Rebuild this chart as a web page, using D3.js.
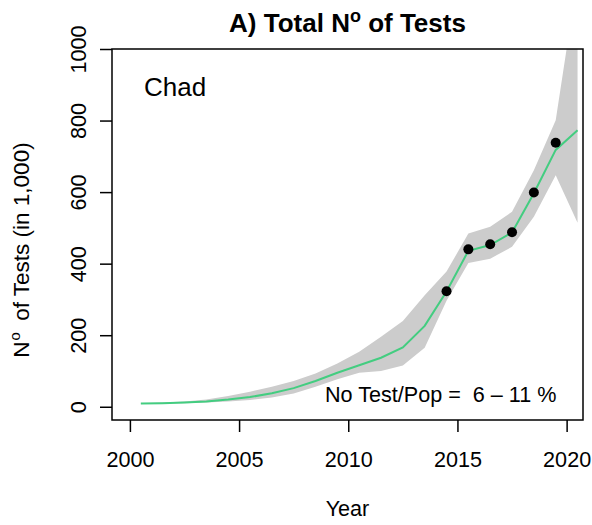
<!DOCTYPE html>
<html>
<head>
<meta charset="utf-8">
<script src="https://cdn.jsdelivr.net/npm/d3@7"></script>
<style>
  html, body { margin: 0; padding: 0; background: #fff; }
  svg { display: block; font-family: "Liberation Sans", Arial, Helvetica, sans-serif; }
</style>
</head>
<body>
<svg id="chart" width="592" height="525"></svg>
<script>
// ---- data ----
const years = [2000.5, 2001.5, 2002.5, 2003.5, 2004.5, 2005.5, 2006.5, 2007.5, 2008.5, 2009.5,
               2010.5, 2011.5, 2012.5, 2013.5, 2014.5, 2015.5, 2016.5, 2017.5, 2018.5, 2019.5, 2020.5];
const fitted = [9, 10, 12, 15, 20, 27, 38, 52, 72, 95, 116, 137, 166, 226, 322, 436, 452, 487, 597, 718, 773];
const upper  = [10, 12, 15, 20, 30, 42, 56, 72, 93, 121, 154, 196, 240, 312, 378, 484, 503, 545, 661, 801, 1200];
const lower  = [9, 9, 10, 12, 15, 19, 26, 37, 56, 77, 95, 100, 115, 165, 296, 402, 414, 447, 531, 647, 514];
const obsYears  = [2014.5, 2015.5, 2016.5, 2017.5, 2018.5, 2019.5];
const obsValues = [323, 440, 454, 488, 599, 738];
const xTicks = [2000, 2005, 2010, 2015, 2020];
const yTicks = [0, 200, 400, 600, 800, 1000];

// ---- layout ----
const svg = d3.select("#chart");
const L = 112, R = 583, T = 49, B = 420;
const x = d3.scaleLinear().domain([1999.18, 2020.75]).range([L, R]);
const y = d3.scaleLinear().domain([-37, 1000]).range([B, T]);

svg.append("defs").append("clipPath").attr("id", "clip")
  .append("rect").attr("x", L).attr("y", T).attr("width", R - L).attr("height", B - T);

const g = svg.append("g").attr("clip-path", "url(#clip)");

const band = years.map((yr, i) => ({ yr, lo: lower[i], hi: upper[i] }));
g.append("path")
  .datum(band)
  .attr("fill", "#cccccc")
  .attr("d", d3.area().x(d => x(d.yr)).y0(d => y(d.lo)).y1(d => y(d.hi)));

g.append("path")
  .datum(years.map((yr, i) => ({ yr, v: fitted[i] })))
  .attr("fill", "none")
  .attr("stroke", "#43CD80")
  .attr("stroke-width", 2)
  .attr("d", d3.line().x(d => x(d.yr)).y(d => y(d.v)));

g.selectAll("circle.obs")
  .data(obsYears.map((yr, i) => ({ yr, v: obsValues[i] })))
  .enter().append("circle")
  .attr("class", "obs")
  .attr("cx", d => x(d.yr)).attr("cy", d => y(d.v)).attr("r", 5)
  .attr("fill", "#000");

// box
svg.append("rect").attr("x", L).attr("y", T).attr("width", R - L).attr("height", B - T)
  .attr("fill", "none").attr("stroke", "#000").attr("stroke-width", 1.5);

// x axis
const xa = svg.append("g").attr("transform", `translate(0,${B})`)
  .call(d3.axisBottom(x).tickValues(xTicks).tickFormat(d3.format("d")).tickSize(12).tickSizeOuter(0));
xa.select(".domain").remove();
xa.selectAll(".tick line").attr("stroke", "#000").attr("stroke-width", 1.5);
xa.selectAll(".tick text").attr("y", 46.5).attr("dy", null)
  .attr("font-size", "21.6px").attr("fill", "#000").attr("font-family", "Liberation Sans, Arial, sans-serif");

// y axis
const ya = svg.append("g").attr("transform", `translate(${L},0)`)
  .call(d3.axisLeft(y).tickValues(yTicks).tickFormat(d3.format("d")).tickSize(12).tickSizeOuter(0));
ya.select(".domain").remove();
ya.selectAll(".tick line").attr("stroke", "#000").attr("stroke-width", 1.5);
ya.selectAll(".tick text")
  .attr("x", null).attr("dy", null)
  .attr("text-anchor", "middle")
  .attr("transform", "translate(-26,0) rotate(-90)")
  .attr("font-size", "21.6px").attr("fill", "#000").attr("font-family", "Liberation Sans, Arial, sans-serif");

// title
const title = svg.append("text").attr("x", (L + R) / 2).attr("y", 32)
  .attr("text-anchor", "middle").attr("font-weight", "bold").attr("font-size", "26px");
title.append("tspan").text("A) Total N");
title.append("tspan").attr("dy", -10).attr("font-size", "18px").text("o");
title.append("tspan").attr("dy", 10).text(" of Tests");

// x label
svg.append("text").attr("x", (L + R) / 2).attr("y", 516)
  .attr("text-anchor", "middle").attr("font-size", "21.6px").text("Year");

// y label
const yl = svg.append("text").attr("transform", "translate(29,250) rotate(-90)")
  .attr("text-anchor", "middle").attr("font-size", "22.5px");
yl.append("tspan").text("N");
yl.append("tspan").attr("dx", 1).attr("dy", -9).attr("font-size", "15px").text("o");
yl.append("tspan").attr("dx", 5).attr("dy", 9).text(" of Tests (in 1,000)");

// annotations
svg.append("text").attr("x", 144).attr("y", 96).attr("font-size", "26px").text("Chad");
svg.append("text").attr("x", 325).attr("y", 402).attr("font-size", "21.6px")
  .attr("xml:space", "preserve").style("white-space", "pre")
  .text("No Test/Pop =  6 \u2013 11 %");
</script>
</body>
</html>
